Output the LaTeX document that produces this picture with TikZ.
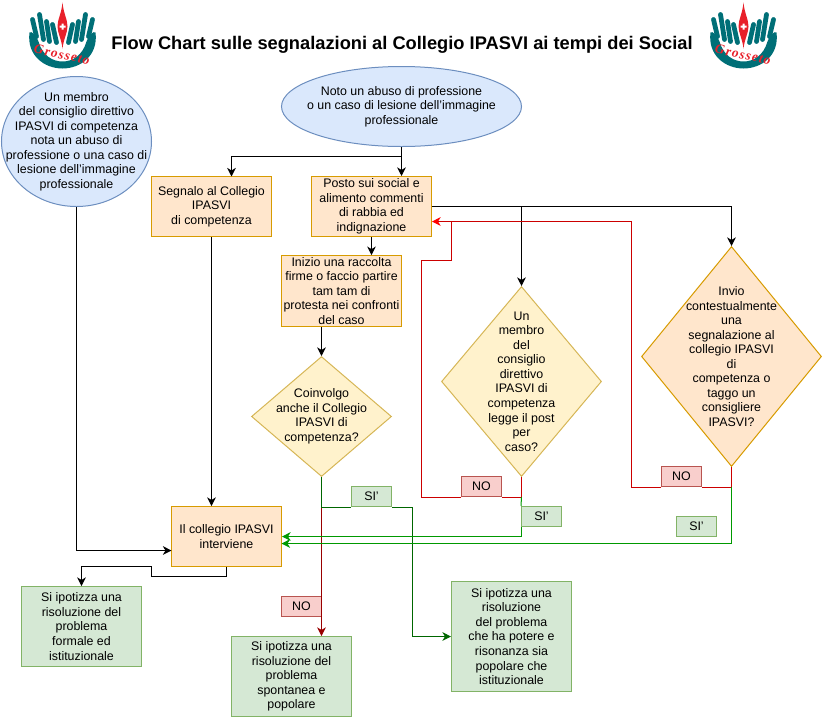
\documentclass[tikz,border=0pt]{standalone}
\usepackage{fontspec}
\setmainfont{Liberation Sans}
\newfontfamily\logofont[LetterSpace=9]{Liberation Serif}
\usetikzlibrary{arrows.meta, shapes.geometric, calc}

\definecolor{bluefill}{HTML}{DAE8FC}
\definecolor{blueline}{HTML}{6C8EBF}
\definecolor{orangefill}{HTML}{FFE6CC}
\definecolor{orangeline}{HTML}{D79B00}
\definecolor{yellowfill}{HTML}{FFF2CC}
\definecolor{yellowline}{HTML}{D6B656}
\definecolor{greenfill}{HTML}{D5E8D4}
\definecolor{greenline}{HTML}{82B366}
\definecolor{redfill}{HTML}{F8CECC}
\definecolor{redline}{HTML}{B85450}
\definecolor{logoteal}{HTML}{006F77}
\definecolor{logored}{HTML}{E8202A}
\definecolor{yesgreen}{HTML}{009900}
\definecolor{yesdark}{HTML}{006600}
\definecolor{nored}{HTML}{CC0000}
\definecolor{nodark}{HTML}{990000}

\tikzset{
  every node/.style={font=\fontsize{9.3}{10.9}\selectfont, align=center, inner sep=0pt},
  line/.style={draw, line width=0.75pt, -{Stealth[length=6.5pt,width=6.5pt,inset=2pt]}},
  plain/.style={draw, line width=0.75pt},
  answer/.style={draw=#1line, fill=#1fill, line width=0.75pt, minimum width=30pt, minimum height=15pt},
  orangebox/.style={rectangle, draw=orangeline, fill=orangefill, line width=0.75pt, minimum width=90pt, minimum height=45pt},
  greenbox/.style={rectangle, draw=greenline, fill=greenfill, line width=0.75pt, minimum width=90pt},
  bluecloud/.style={ellipse, draw=blueline, fill=bluefill, line width=0.75pt},
  question/.style={diamond, draw=#1line, fill=#1fill, line width=0.75pt}
}

% Logo: #1 = horizontal centre, #2 = name of its text
\newcommand{\drawlogo}[2]{
  \begin{scope}[shift={(#1,0)}]
    \foreach \s in {-1,1} {
      \foreach \xa/\ya/\xb/\yb in {30/20/26/37,23/15/19/40,16/22/13/42,10/25/6/43}
        \draw[logoteal,line width=3.6pt,line cap=round] (\s*\xa,\ya) -- (\s*\xb,\yb);
    }
    \fill[logoteal] (-33,33) .. controls (-36,56) and (-18,69) .. (0,69)
      .. controls (18,69) and (36,56) .. (33,33)
      .. controls (31,31) and (26,36) .. (24,42)
      .. controls (20,56) and (10,62) .. (0,62)
      .. controls (-10,62) and (-20,56) .. (-24,42)
      .. controls (-26,36) and (-31,31) .. (-33,33) -- cycle;
    \fill[logored] (0,3) .. controls (1,14) and (5,20) .. (5,27)
      .. controls (5,33) and (1,40) .. (0,49)
      .. controls (-1,40) and (-5,33) .. (-5,27)
      .. controls (-5,20) and (-1,14) .. (0,3) -- cycle;
    \fill[white] (-1,24) rectangle (1,30) (-3,26) rectangle (3,28);
    \node[rotate=-12, text=logored] (#2) at (-0.5,55)
      {\logofont\fontsize{10}{10}\selectfont\bfseries\itshape Grosseto};
  \end{scope}
}

\begin{document}
\begin{tikzpicture}[x=0.75pt,y=-0.75pt]
\useasboundingbox (0.5,0.5) rectangle (823.5,718.5);

% Logos and title
\drawlogo{63}{grosseto left}
\drawlogo{744}{grosseto right}
\node (title) at (402.5,45) {\fontsize{13.7}{15}\selectfont\bfseries Flow Chart sulle segnalazioni al Collegio IPASVI ai tempi dei Social};

% Starting points
\node[bluecloud, minimum width=180pt, minimum height=60pt,
  label={center:Noto un abuso di professione\\o un caso di lesione dell'immagine\\professionale}] (noto) at (402,107) {};
\node[bluecloud, minimum width=112.5pt, minimum height=97.5pt,
  label={center:Un membro\\del consiglio direttivo\\IPASVI di competenza\\nota un abuso di\\professione o una caso di\\lesione dell'immagine\\professionale}] (membro) at (77,142) {};

% Boxes
\node[orangebox] (segnalo) at (212,207) {Segnalo al Collegio\\IPASVI\\di competenza};
\node[orangebox] (posto) at (372,207) {Posto sui social e\\alimento commenti\\di rabbia ed\\indignazione};
\node[orangebox, minimum height=53pt] (raccolta) at (342,291.5) {Inizio una raccolta\\firme o faccio partire\\tam tam di\\protesta nei confronti\\del caso};
\node[orangebox, minimum width=82.5pt] (collegio) at (227,537) {Il collegio IPASVI\\interviene};

% Questions
\node[question=yellow, minimum width=105pt, minimum height=90pt,
  label={center:Coinvolgo\\anche il Collegio\\IPASVI di\\competenza?}] (coinvolgo) at (322,417) {};
\node[question=yellow, minimum width=120pt, minimum height=142.5pt,
  label={center:Un\\membro\\del\\consiglio\\direttivo\\IPASVI di\\competenza\\legge il post\\per\\caso?}] (lettura) at (522,382) {};
\node[question=orange, minimum width=135pt, minimum height=165pt,
  label={center:Invio\\contestualmente\\una\\segnalazione al\\collegio IPASVI\\di\\competenza o\\taggo un\\consigliere\\IPASVI?}] (invio) at (732,357) {};

% Outcomes
\node[greenbox, minimum height=60pt] (formale) at (82,627) {Si ipotizza una\\risoluzione del\\problema\\formale ed\\istituzionale};
\node[greenbox, minimum height=60pt] (spontanea) at (292,677) {Si ipotizza una\\risoluzione del\\problema\\spontanea e\\popolare};
\node[greenbox, minimum height=82.5pt] (potere) at (512,637) {Si ipotizza una\\risoluzione\\del problema\\che ha potere e\\risonanza sia\\popolare che\\istituzionale};

% Answers on the lines
\node[answer=green] (si coinvolgo) at (372,497) {SI'};
\node[answer=red] (no coinvolgo) at (302,607) {NO};
\node[answer=red] (no lettura) at (482,487) {NO};
\node[answer=green] (si lettura) at (542,517) {SI'};
\node[answer=red] (no invio) at (682,477) {NO};
\node[answer=green] (si invio) at (697,527) {SI'};

% Free ends of the lines
\coordinate (split) at (402,157);
\coordinate (in segnalo) at (232,177);
\coordinate (ritorno) at (452,222);
\coordinate (gomito) at (422,261);
\coordinate (angolo) at (632,222);
\coordinate (in verde) at (282,544);
\coordinate (in membro) at (172,551);

% Black lines
\draw[line] (noto.south) -- (posto.north -| noto.south);
\draw[line] (split) -| (in segnalo);
\draw[line] (posto.east) -| (invio.north);
\draw[line] (posto.east) -| (lettura.north);
\draw[line] (posto.south) -- (posto.south |- raccolta.north);
\draw[line] (raccolta.south -| coinvolgo.north) -- (coinvolgo.north);
\draw[line] (segnalo.south) -- (segnalo.south |- collegio.north);
\draw[line] (membro.south) |- (in membro);
\draw[line] (collegio.south) -- ++(0,9) -- ++(-75,0) -- ++(0,-10) -| (formale.north);

% Red lines
\draw[line, color=nodark] (coinvolgo.south) -- (coinvolgo.south |- spontanea.north);
\draw[plain, color=nored] (lettura.south) |- (no lettura.south east);
\draw[plain, color=nored] (no lettura.south west) -| (gomito) -| (ritorno);
\draw[plain, color=nored] (invio.south) |- (no invio.south east);
\draw[line, color=nored, -{Stealth[length=6.5pt,width=6.5pt,inset=2pt,color=red]}]
  (no invio.south west) -| (angolo) -- (ritorno -| posto.east);

% Green lines
\draw[plain, color=yesdark] (coinvolgo.south) |- (si coinvolgo.south west);
\draw[line, color=yesdark] (si coinvolgo.south east) -- ++(20,0) |- (potere.west);
\draw[plain, color=yesgreen] (lettura.south |- no lettura.south) -- (si lettura.north west);
\draw[line, color=yesgreen] (si lettura.south west) |- (collegio.east);
\draw[line, color=yesgreen] (invio.south |- no invio.south) |- (in verde);
\end{tikzpicture}
\end{document}
